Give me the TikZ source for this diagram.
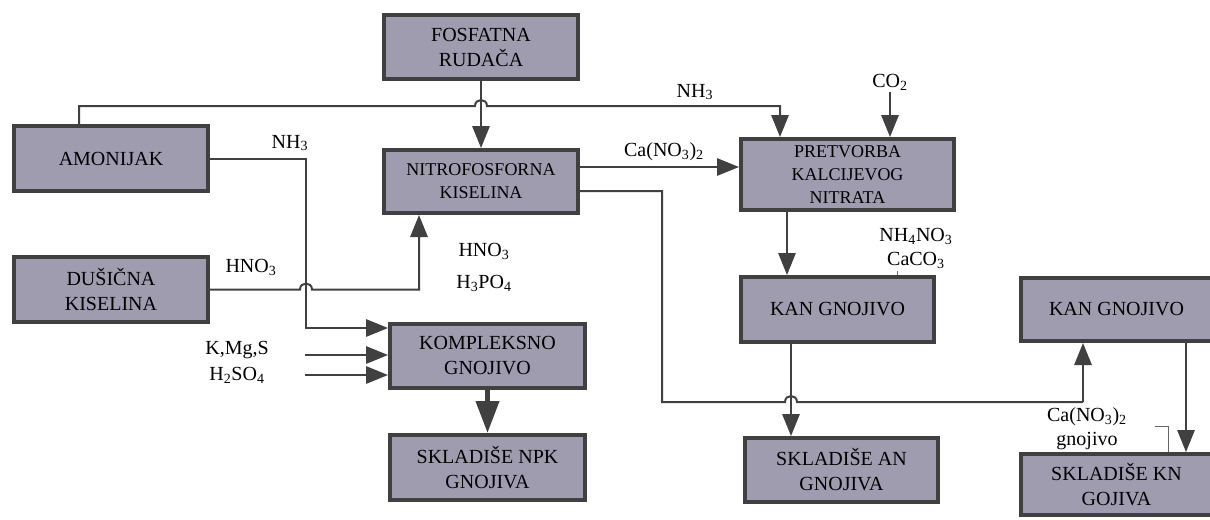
\documentclass[tikz,border=0pt]{standalone}
\usepackage{fontspec}
\setmainfont{Liberation Serif}
\usetikzlibrary{arrows.meta,calc}
\definecolor{boxfill}{HTML}{A09CB0}
\definecolor{boxline}{HTML}{404040}
\begin{document}
\begin{tikzpicture}[x=0.75pt,y=-0.75pt,
  box/.style={draw=boxline,line width=3pt,fill=boxfill,inner sep=0pt,align=center,
    font=\fontsize{15}{18.75}\selectfont},
  smallbox/.style={box,font=\fontsize{13.5}{17.25}\selectfont},
  lbl/.style={inner sep=0pt,align=center,font=\fontsize{15}{18.75}\selectfont},
  conn/.style={draw=boxline,line width=1.5pt},
  arr/.style={conn,-{Triangle[length=16.5pt,width=13pt]}},
  tarr/.style={draw=boxline,line width=3.75pt,-{Triangle[length=24pt,width=17pt]}},
  thinl/.style={draw=boxline!80,line width=0.75pt}]
\useasboundingbox (0,0) rectangle (1210,519);

% boxes
\node[box,minimum width=194*0.75pt,minimum height=64*0.75pt] (fos) at (481,47) {FOSFATNA\\RUDAČA};
\node[box,minimum width=194*0.75pt,minimum height=65*0.75pt] (amo) at (111,158.5) {AMONIJAK};
\node[smallbox,minimum width=194*0.75pt,minimum height=63*0.75pt] (nit) at (481,181.5) {NITROFOSFORNA\\KISELINA};
\node[box,minimum width=194*0.75pt,minimum height=65*0.75pt] (dus) at (111,289.5) {DUŠIČNA\\KISELINA};
\node[box,minimum width=195*0.75pt,minimum height=64*0.75pt] (kom) at (487.5,356) {KOMPLEKSNO\\GNOJIVO};
\node[box,minimum width=195*0.75pt,minimum height=65*0.75pt] (npk) at (487.5,467.5) {SKLADIŠE NPK\\GNOJIVA};
\node[smallbox,minimum width=213*0.75pt,minimum height=71*0.75pt] (pre) at (847.5,174.5) {PRETVORBA\\KALCIJEVOG\\NITRATA};
\node[box,minimum width=193*0.75pt,minimum height=65*0.75pt] (kan1) at (837.5,309.5) {KAN GNOJIVO};
\node[box,minimum width=193*0.75pt,minimum height=64*0.75pt] (an) at (841.5,470) {SKLADIŠE AN\\GNOJIVA};
\node[box,minimum width=191*0.75pt,minimum height=63*0.75pt] (kan2) at (1116.5,309.5) {KAN GNOJIVO};
\node[box,minimum width=191*0.75pt,minimum height=61*0.75pt] (kn) at (1116.5,484.5) {SKLADIŠE KN\\GOJIVA};

% labels
\node[lbl] (lnh3a) at (695,92) {NH\textsubscript{3}};
\node[lbl] (lnh3b) at (290,143) {NH\textsubscript{3}};
\node[lbl] (lco2) at (890,82) {CO\textsubscript{2}};
\node[lbl] (lcano) at (664,152) {Ca(NO\textsubscript{3})\textsubscript{2}};
\node[lbl] (lhno3a) at (251,267) {HNO\textsubscript{3}};
\node[lbl] (lhno3b) at (484,251) {HNO\textsubscript{3}};
\node[lbl] (lh3po4) at (484,283) {H\textsubscript{3}PO\textsubscript{4}};
\node[lbl] (lkmgs) at (237,350) {K,Mg,S};
\node[lbl] (lh2so4) at (237,375) {H\textsubscript{2}SO\textsubscript{4}};
\node[lbl] (lnh4) at (916,236) {NH\textsubscript{4}NO\textsubscript{3}};
\node[lbl] (lcaco3) at (916,260) {CaCO\textsubscript{3}};
\node[lbl] (lcag) at (1087,417) {Ca(NO\textsubscript{3})\textsubscript{2}};
\node[lbl] (lgn) at (1087,441) {gnojivo};

% coordinates
\coordinate (a1) at (79,106);
\coordinate (a2) at (780,106);
\coordinate (b2) at (306,328);
\coordinate (c1) at (419,289.5);
\coordinate (k1) at (305,355);
\coordinate (k2) at (305,375);
\coordinate (d1) at (580,167);
\coordinate (e1) at (662,191);
\coordinate (e2) at (662,402);
\coordinate (e3) at (1083,402);
\coordinate (f1) at (787,212);
\coordinate (g1) at (791,344);
\coordinate (m1) at (1186,343);
\coordinate (co2s) at (890,92);
\coordinate (br1) at (1155,426);
\coordinate (br2) at (1168,426);
\coordinate (tk1) at (897,271);

% connectors
\draw[arr] (amo.north -| a1) -- (a1) -- (475,106) .. controls (475,98) and (487,98) .. (487,106) -- (a2) -- (pre.north -| a2);
\draw[arr] (fos.south) -- (nit.north);
\draw[arr] (amo.east) -- (amo.east -| b2) -- (b2) -- (b2 -| kom.west);
\draw[arr] (dus.east) -- (300,289.5) .. controls (300,281.5) and (312,281.5) .. (312,289.5) -- (c1) -- (c1 |- nit.south);
\draw[arr] (k1) -- (k1 -| kom.west);
\draw[arr] (k2) -- (k2 -| kom.west);
\draw[tarr] (kom.south) -- (npk.north);
\draw[arr] (nit.east |- d1) -- (pre.west |- d1);
\draw[conn] (nit.east |- e1) -- (e1) -- (e2) -- (785,402) .. controls (785,394) and (797,394) .. (797,402) -- (e3);
\draw[arr] (e3) -- (kan2.south -| e3);
\draw[arr] (f1) -- (kan1.north -| f1);
\draw[arr] (kan1.south -| g1) -- (an.north -| g1);
\draw[arr] (kan2.south -| m1) -- (kn.north -| m1);
\draw[arr] (co2s) -- (co2s |- pre.north);
\draw[thinl] (br1) -- (br2) -- (br2 |- kn.north);
\draw[thinl] (tk1) -- (tk1 |- kan1.north);
\end{tikzpicture}
\end{document}
